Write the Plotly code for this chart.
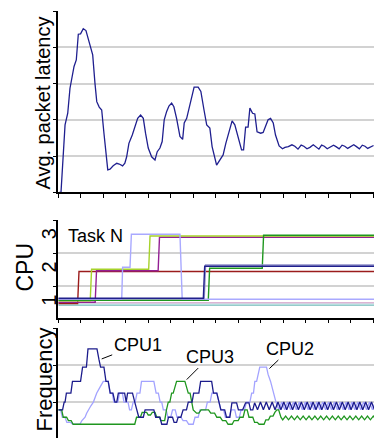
import plotly.graph_objects as go

# ---------------- data ----------------
# Panel 1: average packet latency over time (time units, latency units)
latency_points = [
    (0.4, 0), (1.2, 0), (3.0, 1.86), (4.2, 2.18), (5.2, 2.87), (6.4, 3.24), (7.0, 3.47),
    (8.0, 3.65), (8.9, 4.36), (9.9, 4.37), (11.1, 4.51), (12.3, 4.46), (13.8, 4.16),
    (15.3, 3.79), (16.3, 3.01), (17.1, 2.5), (18.2, 2.35), (19.3, 2.27), (20.3, 1.63),
    (22.0, 0.62), (23.0, 0.64), (24.4, 0.73), (26.0, 0.8), (27.1, 0.78), (28.6, 0.73),
    (29.6, 0.8), (30.4, 0.98), (31.4, 1.35), (32.9, 1.58), (34.1, 1.81), (35.3, 2.04),
    (36.6, 2.13), (37.8, 2.04), (38.8, 1.63), (40.0, 1.22), (41.5, 0.98), (43.0, 0.89),
    (44.0, 1.12), (45.2, 1.22), (46.2, 1.4), (47.1, 2.0), (48.2, 2.23), (49.2, 2.38),
    (50.4, 2.46), (51.4, 2.36), (52.6, 2.04), (54.1, 1.54), (55.3, 1.46), (56.0, 1.91),
    (57.1, 2.04), (58.2, 2.36), (59.3, 2.64), (60.4, 2.9), (62.2, 2.9), (63.4, 2.78),
    (64.8, 2.27), (66.0, 1.86), (67.4, 1.77), (68.4, 1.26), (70.4, 0.75), (71.9, 0.89),
    (73.3, 1.03), (74.5, 1.35), (76.0, 1.67), (77.3, 1.97), (78.5, 1.86), (79.7, 1.58),
    (81.5, 1.17), (82.4, 1.17), (83.3, 1.8), (84.4, 1.8), (85.2, 2.32), (86.4, 2.18),
    (87.4, 2.16), (88.4, 1.67), (90.0, 1.63), (91.1, 1.65), (92.2, 1.81), (93.3, 2.0),
    (94.4, 2.04), (95.6, 1.91), (96.6, 1.58), (98.2, 1.28), (99.7, 1.2), (100.8, 1.24),
    (102.3, 1.26), (103.9, 1.31), (105.2, 1.27), (106.6, 1.19), (108.0, 1.30), (109.2, 1.27),
    (110.6, 1.20), (111.9, 1.24), (113.4, 1.31), (114.6, 1.26), (115.9, 1.19), (117.1, 1.30),
    (118.3, 1.27), (119.6, 1.20), (120.9, 1.24), (122.4, 1.30), (123.5, 1.26), (124.9, 1.20),
    (126.2, 1.30), (127.4, 1.27), (128.7, 1.21), (130.0, 1.25), (131.4, 1.31), (132.6, 1.26),
    (133.9, 1.20), (135.2, 1.30), (136.4, 1.27), (137.6, 1.21), (138.9, 1.26), (140.2, 1.29),
]

# Panel 2: CPU assignment of each task (CPU index, small offsets per task)
task_navy = [(0, 1.144), (64.5, 1.144), (65.1, 2.107), (140.4, 2.107)]
task_slate = [(0, 1.129), (64.9, 1.129), (65.5, 2.146), (140.4, 2.146)]
task_lavender = [(0, 1.114), (28.2, 1.114), (28.6, 2.077), (31.9, 2.077), (32.5, 3.070),
                 (54.1, 3.070), (55.1, 1.114), (140.4, 1.114)]
task_green = [(0, 1.084), (66.7, 1.084), (67.3, 2.047), (90.7, 2.047), (91.3, 3.040), (140.4, 3.040)]
task_yellowgreen = [(0, 1.069), (14.2, 1.069), (14.8, 2.016), (40.2, 2.016), (40.8, 3.019), (140.4, 3.019)]
task_purple = [(0, 1.023), (16.4, 1.023), (17.0, 1.974), (44.4, 1.974), (45.0, 2.980), (140.4, 2.980)]
task_darkred = [(0, 0.987), (8.6, 0.987), (9.2, 1.950), (140.4, 1.950)]
task_plum = [(0, 1.008), (140.4, 1.008)]
task_palecyan = [(0, 0.972), (140.4, 0.972)]
task_teal = [(0, 0.942), (140.4, 0.942)]
cpu_tick_vals = [1, 2, 3]
cpu_tick_text = ["1", "2", "3"]

# Panel 3: CPU frequencies
freq_cpu1 = [
    (0, 0.79), (1.9, 0.79), (2.6, 1.0), (3.0, 1.0), (3.6, 1.245), (5.6, 1.245), (6.3, 1.56),
    (9.9, 1.56), (10.8, 1.95), (12.5, 1.95), (13.2, 2.44), (17.2, 2.44), (18.1, 2.15),
    (18.8, 1.95), (20.3, 1.95), (21.2, 1.56), (22.2, 1.56), (23.1, 1.245), (24.3, 1.245),
    (25.2, 1.0), (26.0, 1.0), (26.7, 1.245), (29.5, 1.245), (30.2, 1.0), (30.8, 1.245),
    (33.0, 1.245), (34.0, 1.0), (35.0, 0.79), (35.8, 0.59), (37.8, 0.59), (38.6, 0.79),
    (42.5, 0.79), (43.3, 0.59), (45.2, 0.59), (46.0, 0.40), (48.3, 0.40), (49.0, 0.59),
    (50.8, 0.59), (51.5, 0.45), (52.6, 0.45), (53.3, 0.59), (54.5, 0.59), (55.5, 0.79),
    (57.0, 0.79), (57.8, 1.0), (59.5, 1.0), (60.2, 1.245), (62.5, 1.245), (63.3, 1.56),
    (68.2, 1.56), (69.0, 1.245), (70.5, 1.245), (71.3, 1.0), (72.3, 0.79), (74.0, 0.79),
    (74.8, 0.59), (76.3, 0.59), (77.2, 0.98), (79.3, 0.98), (80.1, 0.79), (82.0, 0.79),
    (83.3, 0.98), (84.8, 0.98), (85.5, 0.79), (86.5, 0.79), (87.3, 0.98), (88.6, 0.79),
    (89.9, 1.0), (91.2, 0.79), (92.5, 1.0), (93.8, 0.79), (95.1, 1.0), (96.4, 0.79),
    (97.7, 1.0), (99.0, 0.79), (100.3, 1.0), (101.6, 0.79), (102.9, 1.0), (104.2, 0.79),
    (105.5, 1.0), (106.8, 0.79), (108.1, 1.0), (109.4, 0.79), (110.7, 1.0), (112.0, 0.79),
    (113.3, 1.0), (114.6, 0.79), (115.9, 1.0), (117.2, 0.79), (118.5, 1.0), (119.8, 0.79),
    (121.1, 1.0), (122.4, 0.79), (123.7, 1.0), (125.0, 0.79), (126.3, 1.0), (127.6, 0.79),
    (128.9, 1.0), (130.2, 0.79), (131.5, 1.0), (132.8, 0.79), (134.1, 1.0), (135.4, 0.79),
    (136.7, 1.0), (138.0, 0.79), (139.3, 1.0), (140.6, 0.79),
]
freq_cpu2 = [
    (0, 0.79), (1.0, 0.79), (1.8, 0.59), (3.0, 0.59), (3.8, 0.45), (5.5, 0.45), (6.5, 0.40),
    (9.6, 0.40), (10.5, 0.50), (11.9, 0.59), (12.6, 0.70), (13.3, 0.79), (14.5, 0.90),
    (15.6, 1.0), (16.4, 1.12), (17.1, 1.245), (18.5, 1.40), (20.0, 1.56), (22.2, 1.56),
    (23.0, 1.245), (24.0, 1.245), (24.7, 1.0), (26.5, 1.0), (27.2, 1.245), (28.5, 1.245),
    (29.2, 1.0), (31.0, 1.0), (31.7, 0.79), (32.5, 0.79), (33.3, 1.0), (34.2, 1.0),
    (35.0, 1.245), (36.3, 1.245), (37.0, 1.56), (42.5, 1.56), (43.5, 1.245), (44.5, 1.245),
    (45.3, 1.0), (46.0, 1.0), (46.7, 0.79), (48.0, 0.79), (48.7, 0.59), (50.0, 0.59),
    (50.8, 0.79), (52.0, 0.79), (52.8, 0.59), (54.5, 0.59), (55.5, 0.50), (57.0, 0.50),
    (58.0, 0.40), (60.0, 0.40), (60.8, 0.59), (62.2, 0.59), (63.0, 0.79), (65.5, 0.79),
    (66.3, 1.0), (67.5, 1.0), (68.3, 1.245), (70.5, 1.245), (71.3, 1.0), (72.3, 0.79),
    (73.5, 0.79), (74.3, 0.59), (76.0, 0.59), (76.8, 0.79), (78.5, 0.79), (79.2, 0.59),
    (80.5, 0.59), (81.3, 0.79), (82.8, 0.79), (83.7, 1.0), (85.2, 1.0), (86.0, 1.245),
    (86.8, 1.245), (87.4, 1.56), (88.2, 1.56), (88.9, 1.75), (89.6, 1.95), (92.6, 1.95),
    (93.3, 1.75), (94.4, 1.56), (95.6, 1.245), (96.8, 1.0), (98.1, 0.79), (99.4, 1.0),
    (100.7, 0.79), (102.0, 1.0), (103.3, 0.79), (104.6, 1.0), (105.9, 0.79), (107.2, 1.0),
    (108.5, 0.79), (109.8, 1.0), (111.1, 0.79), (112.4, 1.0), (113.7, 0.79), (115.0, 1.0),
    (116.3, 0.79), (117.6, 1.0), (118.9, 0.79), (120.2, 1.0), (121.5, 0.79), (122.8, 1.0),
    (124.1, 0.79), (125.4, 1.0), (126.7, 0.79), (128.0, 1.0), (129.3, 0.79), (130.6, 1.0),
    (131.9, 0.79), (133.2, 1.0), (134.5, 0.79), (135.8, 1.0), (137.1, 0.79), (138.4, 1.0),
    (139.7, 0.79), (141.0, 1.0),
]
freq_cpu3 = [
    (0, 0.79), (1.5, 0.79), (2.2, 0.59), (3.7, 0.59), (4.5, 0.50), (5.7, 0.50), (6.6, 0.40),
    (34.0, 0.40), (34.8, 0.59), (36.5, 0.59), (37.3, 0.72), (39.3, 0.72), (40.0, 0.65),
    (41.0, 0.65), (41.8, 0.72), (43.0, 0.72), (43.8, 0.59), (45.0, 0.59), (45.6, 0.50),
    (47.3, 0.50), (48.1, 0.79), (48.9, 1.0), (49.6, 1.0), (50.4, 1.245), (51.1, 1.245),
    (51.8, 1.40), (52.6, 1.56), (56.3, 1.56), (57.1, 1.40), (57.8, 1.245), (58.6, 1.245),
    (59.3, 1.0), (60.0, 0.79), (61.5, 0.70), (62.5, 0.70), (63.5, 0.79), (66.8, 0.79),
    (67.8, 0.70), (69.5, 0.70), (70.5, 0.59), (72.0, 0.59), (73.0, 0.50), (74.5, 0.50),
    (75.5, 0.40), (77.3, 0.40), (78.2, 0.50), (80.0, 0.50), (80.8, 0.59), (82.2, 0.59),
    (83.0, 0.79), (84.0, 0.79), (84.8, 0.59), (86.5, 0.59), (87.3, 0.45), (88.5, 0.45),
    (89.3, 0.40), (91.5, 0.40), (92.3, 0.52), (93.5, 0.52), (94.3, 0.62), (95.5, 0.62),
    (96.3, 0.72), (97.2, 0.79), (98.0, 0.79), (99.0, 0.59), (99.8, 0.52), (101.1, 0.62),
    (102.4, 0.52), (103.7, 0.62), (105.0, 0.52), (106.3, 0.62), (107.6, 0.52), (108.9, 0.62),
    (110.2, 0.52), (111.5, 0.62), (112.8, 0.52), (114.1, 0.62), (115.4, 0.52), (116.7, 0.62),
    (118.0, 0.52), (119.3, 0.62), (120.6, 0.52), (121.9, 0.62), (123.2, 0.52), (124.5, 0.62),
    (125.8, 0.52), (127.1, 0.62), (128.4, 0.52), (129.7, 0.62), (131.0, 0.52), (132.3, 0.62),
    (133.6, 0.52), (134.9, 0.62), (136.2, 0.52), (137.5, 0.62), (138.8, 0.52), (140.1, 0.62),
    (141.4, 0.52),
]
time_ticks = [0, 10, 20, 30, 40, 50, 60, 70, 80, 90, 100, 110, 120, 130, 140]

# ---------------- figure ----------------
W, H = 374, 438
FONT = "Liberation Sans, Arial, sans-serif"
GRID = "#d2d2d2"
XDOM = [58.3 / W, 1.0]
XR = [0, 140.4]


def ydom(top_px, bottom_px):
    return [max(0.0, 1 - bottom_px / H), 1 - top_px / H]


fig = go.Figure()


def add_line(points, color, xa, ya, width=1.3):
    fig.add_trace(go.Scatter(
        x=[p[0] for p in points], y=[p[1] for p in points], mode="lines",
        line=dict(color=color, width=width), xaxis=xa, yaxis=ya,
        hoverinfo="skip", showlegend=False))


add_line(latency_points, "#1f1f8f", "x", "y", 1.3)

for pts, col in [
    (task_teal, "#72b8b8"), (task_palecyan, "#bfe6e6"), (task_plum, "#dcb4d4"),
    (task_darkred, "#9b1c1c"), (task_purple, "#931f93"), (task_yellowgreen, "#a6d22a"),
    (task_green, "#1f971f"), (task_lavender, "#a9a9ff"), (task_slate, "#8f8fc9"),
    (task_navy, "#20208c"),
]:
    add_line(pts, col, "x2", "y2", 1.4)

add_line(freq_cpu2, "#a3a3ff", "x3", "y3", 1.3)
add_line(freq_cpu3, "#1f961f", "x3", "y3", 1.3)
add_line(freq_cpu1, "#1c1c8c", "x3", "y3", 1.3)

axis_common = dict(showline=True, linecolor="black", linewidth=1.5, zeroline=False,
                   ticks="outside", ticklen=4, tickwidth=1.2, tickcolor="black")

fig.update_layout(
    width=W, height=H, autosize=False,
    margin=dict(l=0, r=0, t=0, b=0, pad=0),
    paper_bgcolor="white", plot_bgcolor="white",
    font=dict(family=FONT, color="black"),
    showlegend=False,
    xaxis=dict(domain=XDOM, range=XR, anchor="y", tickvals=time_ticks,
               showticklabels=False, showgrid=False, **axis_common),
    yaxis=dict(domain=ydom(11, 192.3), range=[0, 5], anchor="x",
               tickvals=[0, 1, 2, 3, 4, 5], showticklabels=False,
               showgrid=True, gridcolor=GRID, gridwidth=1.5, **axis_common),
    xaxis2=dict(domain=XDOM, range=XR, anchor="y2", tickvals=time_ticks,
                showticklabels=False, showgrid=False, **axis_common),
    yaxis2=dict(domain=ydom(220, 317.7), range=[0.56, 3.5], anchor="x2",
                tickvals=cpu_tick_vals, ticktext=cpu_tick_text, tickangle=-90,
                tickfont=dict(size=20, family=FONT), ticklabelstandoff=-7,
                showline=True, linecolor="black", linewidth=1.5, zeroline=False,
                ticks="", showgrid=False,
                minor=dict(tickmode="array", tickvals=[1.5, 2.5, 3.5], ticks="outside",
                           ticklen=4, tickwidth=1.2, tickcolor="black",
                           showgrid=True, gridcolor=GRID, gridwidth=1.5)),
    xaxis3=dict(domain=XDOM, range=XR, anchor="y3", showticklabels=False,
                showgrid=False, showline=False, zeroline=False, ticks=""),
    yaxis3=dict(domain=ydom(328.3, 439), range=[0.027, 3.0], anchor="x3",
                tickvals=[1, 2, 3], showticklabels=False,
                showgrid=True, gridcolor=GRID, gridwidth=1.5, **axis_common),
)

annots = [
    dict(text="Avg. packet latency", xref="paper", yref="paper", x=43.3 / W, y=1 - 103.3 / H,
         textangle=-90, font=dict(size=20), showarrow=False, xanchor="center", yanchor="middle"),
    dict(text="CPU", xref="paper", yref="paper", x=24 / W, y=1 - 267.5 / H,
         textangle=-90, font=dict(size=23), showarrow=False, xanchor="center", yanchor="middle"),
    dict(text="Frequency", xref="paper", yref="paper", x=43.5 / W, y=1 - 380 / H,
         textangle=-90, font=dict(size=22), showarrow=False, xanchor="center", yanchor="middle"),
    dict(text="Task N", xref="x2", yref="y2", x=16.5, y=3.02, font=dict(size=18),
         showarrow=False, xanchor="center", yanchor="middle"),
    dict(text="CPU1", xref="x3", yref="y3", x=19.3, y=2.17, ax=36, ay=-14,
         font=dict(size=18), showarrow=True, arrowhead=0, arrowwidth=1, arrowcolor="black"),
    dict(text="CPU3", xref="x3", yref="y3", x=57.1, y=1.61, ax=23, ay=-23,
         font=dict(size=18), showarrow=True, arrowhead=0, arrowwidth=1, arrowcolor="black"),
    dict(text="CPU2", xref="x3", yref="y3", x=93.9, y=1.91, ax=21, ay=-20,
         font=dict(size=18), showarrow=True, arrowhead=0, arrowwidth=1, arrowcolor="black"),
]
fig.update_layout(annotations=annots)

fig.write_html("out.html", config={"displayModeBar": False},
               post_script="document.body.style.margin='0';")
